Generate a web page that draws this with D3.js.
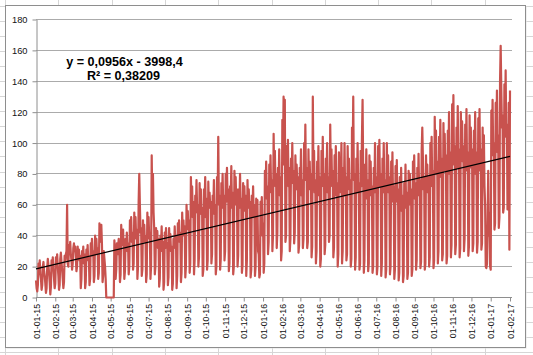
<!DOCTYPE html>
<html>
<head>
<meta charset="utf-8">
<script src="https://cdn.jsdelivr.net/npm/d3@7"></script>
<style>
  html, body { margin: 0; padding: 0; background: #fff; }
  svg { display: block; }
  text { font-family: "Liberation Sans", Arial, sans-serif; }
</style>
</head>
<body>
<svg id="chart" width="533" height="355"></svg>
<script>
// ---------------- DATA ----------------
const startDate = "2015-01-01";   // first daily value
// daily values (first 4 days Thu-Sun, then weeks Mon..Sun)
const values = [
  11, 6, 4, 8,
  22, 18, 24, 15, 12, 5, 8,
  20, 23, 17, 14, 9, 3, 6,
  19, 25, 21, 16, 10, 2, 7,
  24, 20, 26, 18, 12, 6, 9,
  26, 22, 28, 20, 14, 5, 8,
  25, 29, 23, 18, 12, 6, 10,
  27, 24, 28, 30, 60, 22, 20,
  34, 30, 36, 28, 24, 18, 22,
  32, 35, 30, 33, 26, 17, 20,
  33, 26, 31, 24, 27, 6, 12,
  30, 24, 33, 22, 28, 6, 10,
  31, 25, 34, 24, 26, 8, 12,
  35, 28, 38, 27, 30, 10, 14,
  40, 30, 38, 28, 32, 12, 16,
  48, 36, 38, 47, 35, 10, 14,
  30, 25, 20, 12, 0, 0, 0,
  0, 0, 0, 0, 0, 0, 0,
  0, 0, 0, 37, 30, 12, 18,
  35, 28, 33, 38, 28, 10, 15,
  47, 34, 36, 44, 30, 12, 17,
  38, 32, 42, 30, 35, 15, 20,
  50, 38, 52, 36, 42, 18, 22,
  55, 40, 52, 38, 44, 12, 20,
  62, 80, 60, 42, 45, 14, 18,
  50, 38, 47, 36, 40, 10, 15,
  55, 40, 52, 38, 42, 12, 20,
  92, 60, 80, 55, 45, 15, 20,
  45, 36, 43, 32, 38, 7, 12,
  40, 34, 46, 30, 36, 5, 10,
  42, 32, 45, 36, 34, 8, 13,
  45, 35, 41, 30, 33, 5, 9,
  38, 32, 46, 34, 40, 6, 14,
  48, 38, 50, 36, 42, 10, 16,
  55, 42, 50, 40, 46, 13, 20,
  60, 46, 56, 44, 50, 16, 22,
  78, 60, 72, 52, 62, 15, 24,
  66, 55, 76, 58, 60, 20, 26,
  74, 56, 70, 54, 58, 14, 18,
  70, 60, 78, 52, 64, 18, 24,
  75, 58, 68, 60, 62, 22, 28,
  66, 56, 76, 54, 60, 15, 20,
  78, 62, 104, 60, 66, 18, 25,
  74, 64, 80, 58, 66, 24, 30,
  80, 62, 84, 64, 70, 17, 22,
  72, 64, 85, 58, 68, 15, 20,
  82, 66, 78, 60, 70, 20, 27,
  70, 58, 80, 62, 64, 16, 21,
  74, 60, 72, 56, 66, 14, 24,
  76, 58, 70, 60, 62, 13, 18,
  66, 56, 72, 52, 60, 14, 20,
  64, 52, 63, 30, 28, 13, 15,
  62, 50, 65, 40, 48, 16, 22,
  82, 66, 88, 64, 72, 28, 36,
  86, 70, 92, 68, 76, 30, 40,
  106, 76, 95, 72, 80, 32, 42,
  84, 72, 96, 66, 78, 24, 30,
  115, 90, 130, 86, 128, 36, 40,
  98, 78, 102, 72, 84, 30, 38,
  90, 76, 100, 74, 82, 35, 42,
  92, 70, 86, 74, 78, 29, 34,
  84, 72, 96, 66, 76, 32, 38,
  100, 78, 112, 76, 84, 32, 36,
  96, 72, 88, 70, 80, 26, 33,
  130, 82, 95, 68, 76, 22, 30,
  88, 70, 98, 66, 78, 20, 25,
  95, 74, 104, 72, 80, 28, 34,
  90, 76, 100, 68, 78, 36, 40,
  112, 80, 96, 72, 82, 26, 32,
  92, 70, 98, 66, 74, 20, 28,
  94, 68, 86, 72, 100, 22, 30,
  84, 70, 100, 66, 78, 24, 28,
  98, 72, 90, 70, 76, 20, 25,
  110, 84, 130, 76, 80, 18, 26,
  90, 68, 100, 70, 74, 18, 22,
  95, 72, 104, 128, 80, 16, 24,
  86, 66, 96, 64, 76, 17, 22,
  92, 70, 88, 66, 72, 16, 20,
  84, 68, 100, 70, 78, 15, 20,
  98, 74, 102, 72, 80, 14, 22,
  90, 68, 100, 70, 76, 13, 18,
  100, 72, 92, 68, 78, 15, 20,
  88, 64, 94, 62, 72, 12, 18,
  85, 62, 89, 64, 70, 11, 16,
  78, 58, 84, 56, 66, 10, 14,
  74, 60, 86, 58, 68, 12, 16,
  82, 62, 80, 60, 70, 14, 18,
  88, 66, 92, 64, 74, 18, 24,
  84, 68, 93, 66, 76, 19, 23,
  95, 110, 90, 70, 78, 18, 22,
  92, 70, 86, 68, 78, 20, 26,
  100, 76, 104, 72, 82, 19, 24,
  117, 84, 108, 80, 88, 22, 30,
  104, 86, 115, 78, 90, 24, 28,
  113, 84, 106, 82, 92, 22, 27,
  108, 88, 120, 80, 94, 26, 34,
  125, 92, 131, 86, 98, 28, 34,
  110, 90, 124, 84, 96, 26, 32,
  120, 92, 114, 88, 98, 30, 38,
  112, 86, 122, 82, 94, 27, 33,
  118, 90, 110, 84, 96, 30, 35,
  108, 86, 120, 80, 94, 29, 36,
  116, 88, 122, 82, 96, 31, 35,
  110, 82, 105, 72, 60, 20, 19,
  22, 50, 82, 40, 55, 20, 18,
  121, 96, 128, 92, 100, 44, 48,
  126, 100, 134, 94, 105, 45, 52,
  140, 163, 135, 110, 118, 55, 58,
  138, 110, 147, 104, 112, 57, 62,
  126, 31, 134
];
const yTicks = [0, 20, 40, 60, 80, 100, 120, 140, 160, 180];
const xTickLabels = [
  "01-01-15","01-02-15","01-03-15","01-04-15","01-05-15","01-06-15","01-07-15",
  "01-08-15","01-09-15","01-10-15","01-11-15","01-12-15","01-01-16","01-02-16",
  "01-03-16","01-04-16","01-05-16","01-06-16","01-07-16","01-08-16","01-09-16",
  "01-10-16","01-11-16","01-12-16","01-01-17","01-02-17"
];
// Excel linear trendline (x = Excel date serial); label shows rounded values
const trendSlope = 0.09563;
const trendIntercept = -3998.4;
const equationLines = ["y = 0,0956x - 3998,4", "R\u00B2 = 0,38209"];

// ---------------- CHART ----------------
const svg = d3.select("#chart");
const W = 533, H = 355;
const frame = {x: 5, y: 5, w: 520, h: 342};
const plot = {left: 36, right: 512, top: 19.5, bottom: 297.5};

// spreadsheet cell grid behind the chart
const cellLines = svg.append("g").attr("stroke", "#d6d6d6").attr("stroke-width", 1);
d3.range(0, 11).forEach(k => {
  const cx = Math.round(5 + 53.3 * k) + 0.5;
  cellLines.append("line").attr("x1", cx).attr("x2", cx).attr("y1", 0).attr("y2", H);
});
d3.range(-1, 23).forEach(k => {
  const cy = Math.round(21 + 15.05 * k) + 0.5;
  cellLines.append("line").attr("x1", 0).attr("x2", W).attr("y1", cy).attr("y2", cy);
});

// chart frame
svg.append("rect")
  .attr("x", frame.x + 1.5).attr("y", frame.y + 1.5)
  .attr("width", frame.w).attr("height", frame.h)
  .attr("fill", "#e4e4e4");
svg.append("rect")
  .attr("x", frame.x + 0.5).attr("y", frame.y + 0.5)
  .attr("width", frame.w).attr("height", frame.h)
  .attr("fill", "#fff").attr("stroke", "#8e8e8e").attr("stroke-width", 1);

// scales
const parse = d3.utcParse("%Y-%m-%d");
const t0 = parse(startDate);
const dates = values.map((v, i) => d3.utcDay.offset(t0, i));
const x = d3.scaleUtc().domain([dates[0], dates[dates.length - 1]]).range([plot.left, 510]);
const y = d3.scaleLinear().domain([0, 180]).range([plot.bottom, plot.top]);
const tickDates = xTickLabels.map(s => {
  const [d, m, yy] = s.split("-");
  return parse("20" + yy + "-" + m + "-" + d);
});

// horizontal gridlines
svg.append("g").selectAll("line").data(yTicks.filter(v => v > 0)).join("line")
  .attr("x1", plot.left).attr("x2", plot.right)
  .attr("y1", d => Math.floor(y(d)) + 0.5).attr("y2", d => Math.floor(y(d)) + 0.5)
  .attr("stroke", "#ababab").attr("stroke-width", 1);

// y axis
const yAxis = svg.append("g").attr("transform", `translate(${plot.left + 0.5},0)`)
  .call(d3.axisLeft(y).tickValues(yTicks).tickSize(4).tickPadding(5).tickSizeOuter(0));
yAxis.select(".domain").attr("stroke", "#8e8e8e");
yAxis.selectAll(".tick line").attr("stroke", "#8e8e8e");
yAxis.selectAll("text").attr("font-size", 9.3).attr("fill", "#111")
  .attr("font-family", "Liberation Sans, Arial, sans-serif");

// x axis
const xAxis = svg.append("g").attr("transform", `translate(0,${plot.bottom})`)
  .call(d3.axisBottom(x).tickValues(tickDates).tickFormat((d, i) => xTickLabels[i])
    .tickSize(4).tickSizeOuter(0));
xAxis.select(".domain").remove();
xAxis.append("line").attr("x1", plot.left).attr("x2", plot.right)
  .attr("y1", 0).attr("y2", 0).attr("stroke", "#8e8e8e");
xAxis.selectAll(".tick line").attr("stroke", "#8e8e8e");
xAxis.selectAll("text")
  .attr("font-size", 8.7).attr("fill", "#111")
  .attr("font-family", "Liberation Sans, Arial, sans-serif")
  .attr("x", -6.5).attr("y", 0).attr("dy", "0.35em")
  .attr("transform", "rotate(-90)")
  .style("text-anchor", "end");

// data line
const line = d3.line().x((d, i) => x(dates[i])).y(d => y(d));
svg.append("path").datum(values)
  .attr("d", line)
  .attr("fill", "none")
  .attr("stroke", "#c8524e")
  .attr("stroke-width", 2.2)
  .attr("stroke-linejoin", "round");

// trendline
const excelEpoch = Date.UTC(1899, 11, 30);
const serial = d => (d.getTime() - excelEpoch) / 86400000;
const trendPts = [dates[0], dates[dates.length - 1]];
svg.append("path").datum(trendPts)
  .attr("d", d3.line().x(d => x(d)).y(d => y(trendSlope * serial(d) + trendIntercept)))
  .attr("fill", "none").attr("stroke", "#000").attr("stroke-width", 1.2);

// equation label
const eq = svg.append("g").attr("font-weight", "bold").attr("font-size", 12.6)
  .attr("fill", "#000").attr("text-anchor", "middle");
eq.append("text").attr("x", 124.5).attr("y", 66).text(equationLines[0]);
eq.append("text").attr("x", 123.5).attr("y", 79.5).text(equationLines[1]);
</script>
</body>
</html>
